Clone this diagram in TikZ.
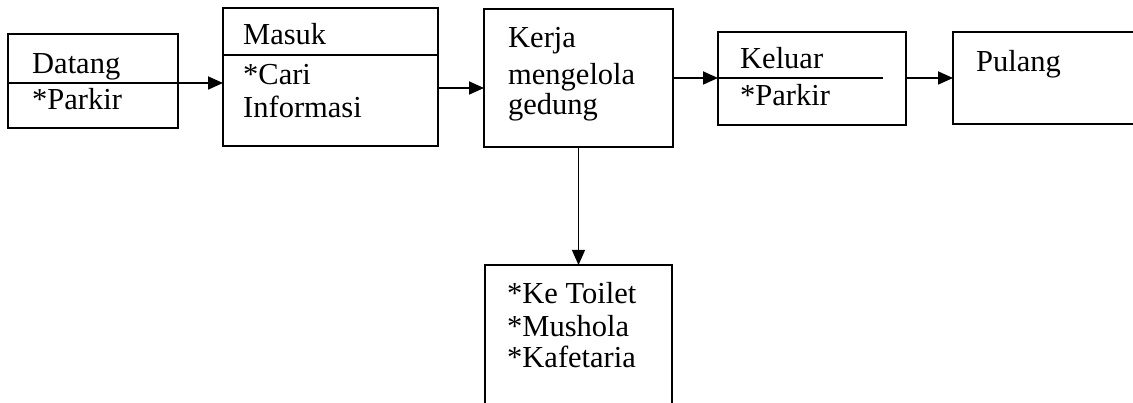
\documentclass[tikz,border=0pt]{standalone}
\usepackage{fontspec}
\setmainfont{Liberation Serif}
\usetikzlibrary{arrows.meta}
\begin{document}
\begin{tikzpicture}[x=1pt,y=-1pt,
  box/.style={draw=black, line width=1.8pt, inner sep=0pt, outer sep=0pt, anchor=north west},
  lbl/.style={font=\fontsize{30.5}{34}\selectfont, inner sep=0pt, anchor=base west},
  rule/.style={draw=black, line width=1.8pt},
  arr/.style={draw=black, line width=1.8pt, -{Triangle[length=15pt,width=13pt]}},
  varr/.style={arr, line width=1.1pt}]
\useasboundingbox (0,0) rectangle (1133,403);
\clip (0,0) rectangle (1133,403);

% process boxes (the last one and the facilities box run off the page edge)
\node[box, minimum width=170pt, minimum height=94pt]  (datang)    at (8,34)   {};
\node[box, minimum width=215pt, minimum height=138pt] (masuk)     at (223,8)  {};
\node[box, minimum width=189pt, minimum height=138pt] (kerja)     at (484,9)  {};
\node[box, minimum width=188pt, minimum height=93pt]  (keluar)    at (718,32) {};
\node[box, minimum width=220pt, minimum height=92pt]  (pulang)    at (953,32) {};
\node[box, minimum width=187pt, minimum height=170pt] (fasilitas) at (485,265) {};

% dividers between title and detail
\draw[rule] (datang.west |- 0,83) -- (datang.east |- 0,83);
\draw[rule] (masuk.west |- 0,55) -- (masuk.east |- 0,55);
\coordinate (keluarDivEnd) at (883,78);
\draw[rule] (keluar.west |- keluarDivEnd) -- (keluarDivEnd);

% labels
\node[lbl] (tDatang)  at (32,74)  {Datang};
\node[lbl] (tParkir1) at (32,110) {*Parkir};
\node[lbl] (tMasuk)   at (243,45) {Masuk};
\node[lbl] (tCari)    at (243,85) {*Cari};
\node[lbl] (tInfo)    at (243,118) {Informasi};
\node[lbl] (tKerja)   at (508,48) {Kerja};
\node[lbl] (tKelola)  at (508,85) {mengelola};
\node[lbl] (tGedung)  at (508,115) {gedung};
\node[lbl] (tKeluar)  at (740,69) {Keluar};
\node[lbl] (tParkir2) at (740,106) {*Parkir};
\node[lbl] (tPulang)  at (976,72) {Pulang};
\node[lbl] (tToilet)  at (507,304) {*Ke Toilet};
\node[lbl] (tMushola) at (507,337) {*Mushola};
\node[lbl] (tKafe)    at (507,368) {*Kafetaria};

% flow
\draw[arr] (datang.east |- 0,83) -- (masuk.west |- 0,83);
\draw[arr] (masuk.east |- 0,88) -- (kerja.west |- 0,88);
\draw[arr] (kerja.east |- 0,78) -- (keluar.west |- 0,78);
\draw[arr] (keluar.east |- 0,78) -- (pulang.west |- 0,78);
\draw[varr] (kerja.south) -- (fasilitas.north);
\end{tikzpicture}
\end{document}
